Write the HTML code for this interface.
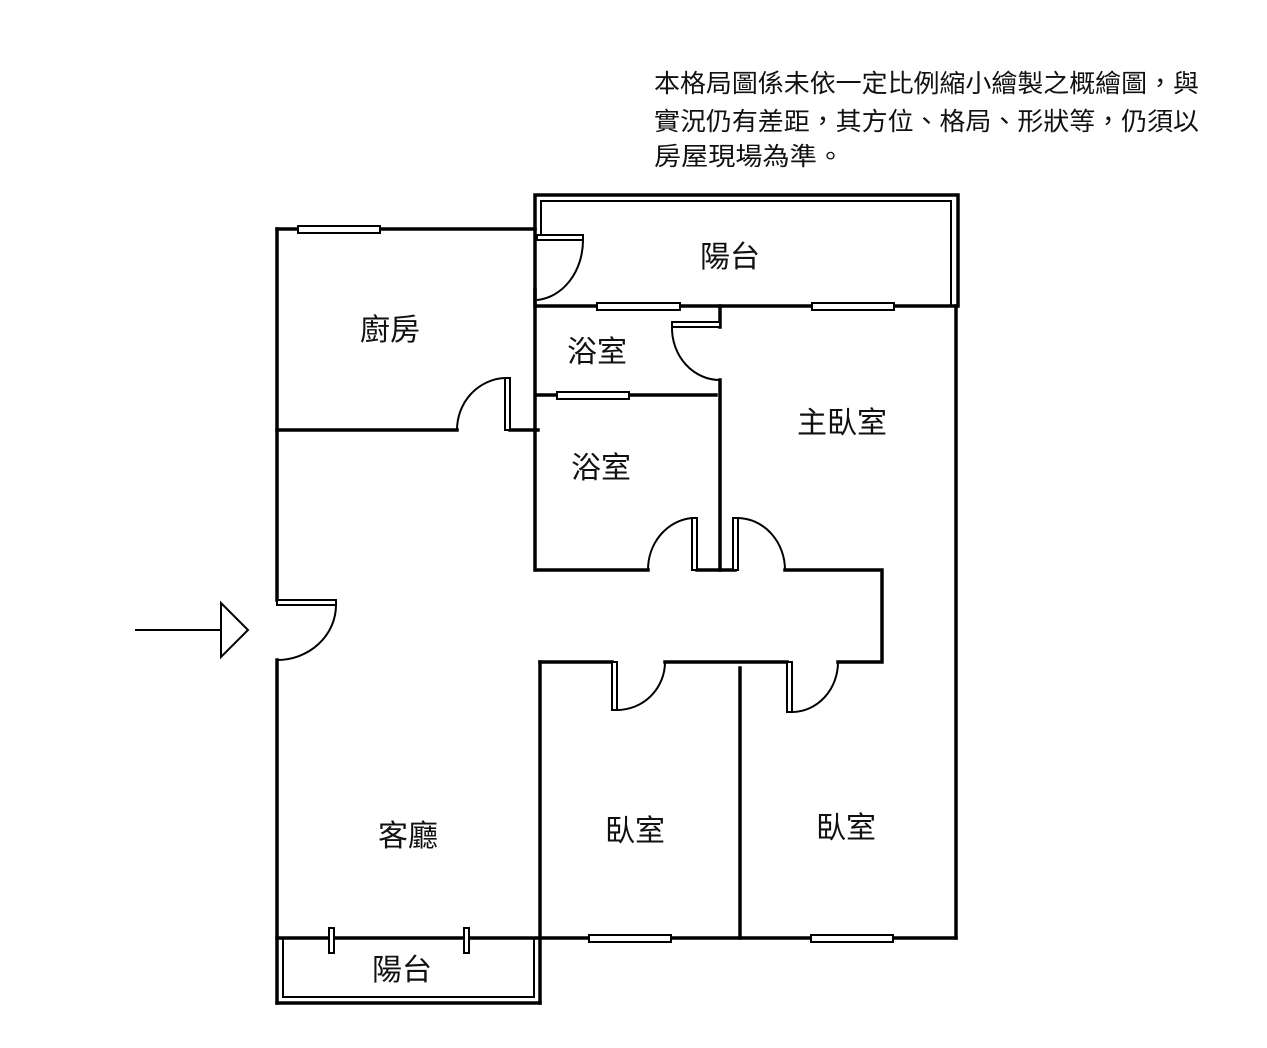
<!DOCTYPE html>
<html><head><meta charset="utf-8"><style>
html,body{margin:0;padding:0;background:#fff;}
svg{display:block}
text{font-family:"Liberation Sans","Noto Sans CJK TC",sans-serif;fill:#111}
</style></head><body>
<svg width="1267" height="1048" viewBox="0 0 1267 1048" xmlns="http://www.w3.org/2000/svg">
<g font-size="25" >
<text x="654" y="92" textLength="545" lengthAdjust="spacingAndGlyphs">本格局圖係未依一定比例縮小繪製之概繪圖，與</text>
<text x="654" y="130" textLength="545" lengthAdjust="spacingAndGlyphs">實況仍有差距，其方位、格局、形狀等，仍須以</text>
<text x="654" y="165" textLength="190" lengthAdjust="spacingAndGlyphs">房屋現場為準。</text>
</g>
<g stroke="#000" stroke-width="3.5" fill="none" stroke-linecap="square">
<!-- top balcony -->
<rect x="535" y="195" width="423" height="111"/>
<polyline points="541,235 541,201 951,201 951,306" stroke-width="2"/>
<!-- kitchen -->
<line x1="277" y1="229" x2="535" y2="229"/>
<line x1="277" y1="229" x2="277" y2="600"/>
<line x1="277" y1="660" x2="277" y2="1003"/>
<line x1="277" y1="430" x2="457" y2="430"/>
<line x1="510" y1="430" x2="538" y2="430"/>
<line x1="535" y1="290" x2="535" y2="570"/>
<!-- bath walls -->
<line x1="720" y1="306" x2="720" y2="327"/>
<line x1="720" y1="380" x2="720" y2="570"/>
<line x1="537" y1="395" x2="716" y2="395"/>
<line x1="537" y1="570" x2="648" y2="570"/>
<line x1="697" y1="570" x2="735" y2="570"/>
<!-- right outer -->
<line x1="956" y1="306" x2="956" y2="938"/>
<!-- corridor -->
<polyline points="785,570 882,570 882,662 838,662"/>
<line x1="787" y1="662" x2="665" y2="662"/>
<line x1="612" y1="662" x2="540" y2="662"/>
<line x1="540" y1="662" x2="540" y2="1003"/>
<line x1="740" y1="668" x2="740" y2="938"/>
<line x1="277" y1="938" x2="956" y2="938"/>
<!-- bottom balcony -->
<polyline points="277,1003 540,1003" />
<polyline points="283,938 283,997 534,997 534,938" stroke-width="2"/>
</g>
<!-- windows -->
<g fill="#fff" stroke="#000" stroke-width="2">
<rect x="298" y="226" width="82" height="7"/>
<rect x="597" y="303" width="83" height="7"/>
<rect x="812" y="303" width="82" height="7"/>
<rect x="557" y="392" width="72" height="7"/>
<rect x="589" y="935" width="82" height="7"/>
<rect x="811" y="935" width="82" height="7"/>
<rect x="329" y="928" width="5" height="25"/>
<rect x="464" y="928" width="5" height="25"/>
</g>
<!-- doors -->
<g stroke="#000" stroke-width="2" fill="none">
<rect x="537" y="235" width="46" height="5" fill="#fff"/>
<path d="M583,240 A50,60 0 0 1 537,300"/>
<rect x="672" y="322" width="48" height="5" fill="#fff"/>
<path d="M672,327 A48,52 0 0 0 720,380"/>
<rect x="505" y="378" width="5" height="52" fill="#fff"/>
<path d="M505,378 A50,52 0 0 0 457,430"/>
<rect x="692" y="518" width="5" height="52" fill="#fff"/>
<path d="M692,518 A48,52 0 0 0 648,570"/>
<rect x="733" y="518" width="5" height="52" fill="#fff"/>
<path d="M738,518 A48,52 0 0 1 785,570"/>
<rect x="277" y="600" width="59" height="5" fill="#fff"/>
<path d="M336,605 A59,55 0 0 1 277,660"/>
<rect x="612" y="662" width="5" height="48" fill="#fff"/>
<path d="M617,710 A48,48 0 0 0 665,662"/>
<rect x="787" y="662" width="5" height="50" fill="#fff"/>
<path d="M792,712 A46,50 0 0 0 838,662"/>
<!-- entry arrow -->
<line x1="135" y1="630" x2="221" y2="630"/>
<polygon points="221,603 248,630 221,657"/>
</g>
<g font-size="30">
<text x="730" y="267" text-anchor="middle">陽台</text>
<text x="390" y="340" text-anchor="middle">廚房</text>
<text x="597" y="362" text-anchor="middle">浴室</text>
<text x="601" y="478" text-anchor="middle">浴室</text>
<text x="842" y="433" text-anchor="middle">主臥室</text>
<text x="408" y="846" text-anchor="middle">客廳</text>
<text x="635" y="841" text-anchor="middle">臥室</text>
<text x="846" y="838" text-anchor="middle">臥室</text>
<text x="402" y="980" text-anchor="middle">陽台</text>
</g>
</svg>
</body></html>
